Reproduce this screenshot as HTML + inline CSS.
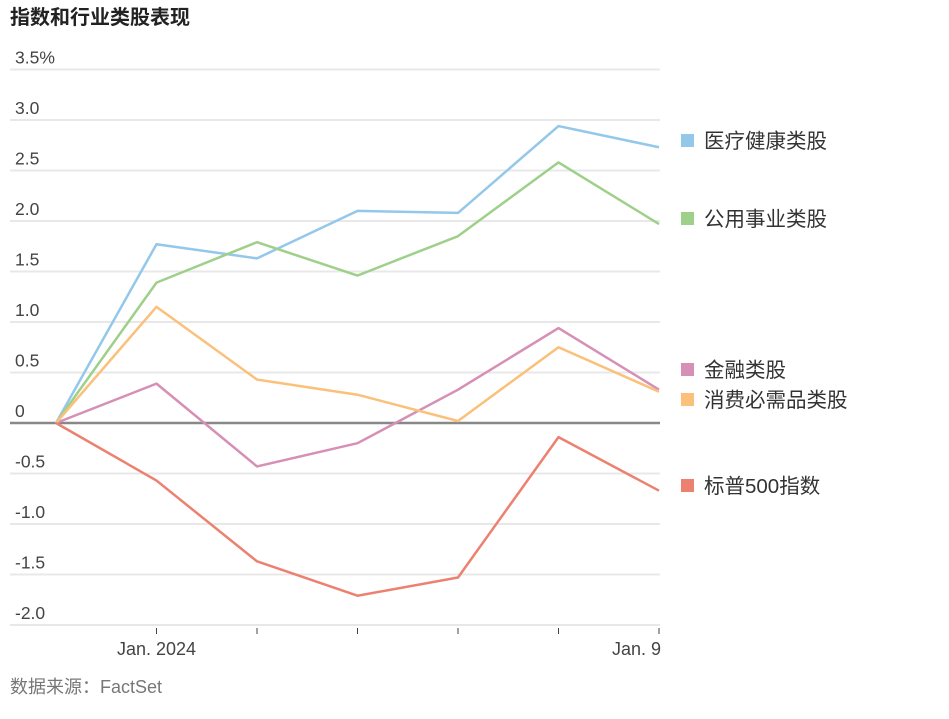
<!DOCTYPE html>
<html><head><meta charset="utf-8"><style>
body{margin:0;background:#fff;width:949px;height:714px;overflow:hidden;font-family:"Liberation Sans","Noto Sans CJK SC",sans-serif}
</style></head><body>
<svg width="949" height="714" xmlns="http://www.w3.org/2000/svg" style="font-family:'Liberation Sans','Noto Sans CJK SC',sans-serif">
<text x="10" y="24" font-size="20" font-weight="bold" fill="#222">指数和行业类股表现</text>
<g id="grid"></g><g id="lines"></g><g id="legend"></g>
<text x="10" y="693" font-size="18" fill="#777">数据来源：FactSet</text>
</svg>
<script>
const yTicks=[3.5,3.0,2.5,2.0,1.5,1.0,0.5,0,-0.5,-1.0,-1.5,-2.0];
const yTickLabels=["3.5%","3.0","2.5","2.0","1.5","1.0","0.5","0","-0.5","-1.0","-1.5","-2.0"];
const xLabels=["","Jan. 2024","","","","","Jan. 9"];
const seriesNames=["医疗健康类股","公用事业类股","金融类股","消费必需品类股","标普500指数"];
const health=[0,1.77,1.63,2.10,2.08,2.94,2.73];
const utilities=[0,1.39,1.79,1.46,1.85,2.58,1.97];
const financials=[0,0.39,-0.43,-0.20,0.33,0.94,0.33];
const staples=[0,1.15,0.43,0.28,0.02,0.75,0.31];
const sp500=[0,-0.57,-1.37,-1.71,-1.53,-0.14,-0.67];
const series=[health,utilities,financials,staples,sp500];
const colors=["#93c8ea","#9fd08a","#d68fb5","#fbc07a","#ec8170"];
const legendY=[141,219,370,400,486];
const NS="http://www.w3.org/2000/svg";
const y=v=>423-v*101;
const x=i=>56+i*100.5;
function mk(t,a,p){const e=document.createElementNS(NS,t);for(const k in a)e.setAttribute(k,a[k]);p.appendChild(e);return e;}
const grid=document.getElementById('grid');
yTicks.forEach((v,i)=>{
  if(v!==0){const l=mk('line',{x1:10,x2:660,y1:y(v),y2:y(v),stroke:'#e8e8e8','stroke-width':2},grid);
  
  }
  const t=mk('text',{x:15,y:y(v)-6,'font-size':17.5,fill:'#444'},grid);t.textContent=yTickLabels[i];
  
  
});
xLabels.forEach((s,i)=>{
  if(i===0)return;
  const tk=mk('line',{x1:x(i),x2:x(i),y1:628,y2:634,stroke:'#444','stroke-width':1},grid);
  
  
  if(s){const t=mk('text',{x:i===6?x(i)+2:x(i),y:655,'font-size':18,fill:'#444','text-anchor':i===6?'end':'middle'},grid);t.textContent=s;
  
  }
});
const zl=mk('line',{x1:10,x2:660,y1:y(0),y2:y(0),stroke:'#888','stroke-width':2.5},grid);


const lines=document.getElementById('lines'),leg=document.getElementById('legend');
series.forEach((d,s)=>{
  const p=mk('polyline',{points:d.map((v,i)=>x(i)+','+y(v)).join(' '),fill:'none',stroke:colors[s],'stroke-width':2.5,'stroke-linejoin':'round'},lines);
  
  
  const r=mk('rect',{x:681,y:legendY[s]-7,width:13,height:13,fill:colors[s]},leg);
  
  
  const t=mk('text',{x:704,y:legendY[s]+7,'font-size':20.5,fill:'#333'},leg);t.textContent=seriesNames[s];
  
  
});
</script>
</body></html>
